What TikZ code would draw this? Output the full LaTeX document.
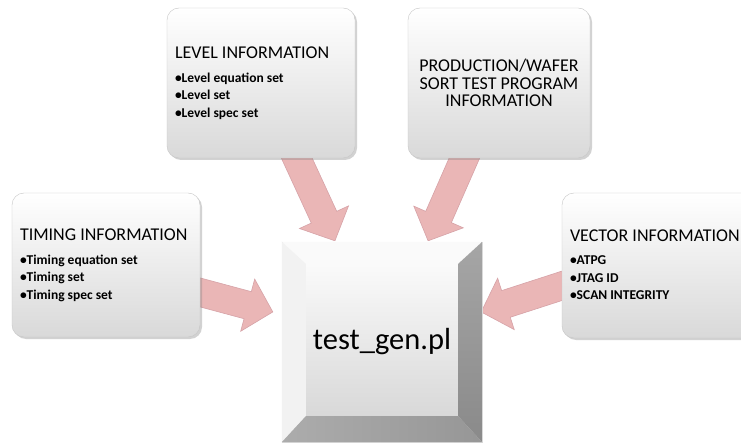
\documentclass[tikz,border=0pt]{standalone}
\usepackage{fontspec}
\setmainfont{Carlito}
\usetikzlibrary{calc,shadows}
\definecolor{arrowpink}{RGB}{234,182,182}
\definecolor{arrowedge}{RGB}{214,162,167}
\tikzset{
  infobox/.style={draw=gray!45,rounded corners=12pt,top color=white,bottom color=gray!30,
    drop shadow={opacity=0.35,shadow xshift=2pt,shadow yshift=-2pt},
    inner sep=8pt,font=\fontsize{18}{17.5}\selectfont},
  listbox/.style={infobox,align=flush left,text height=10pt,text depth=58pt},
  corebox/.style={draw=gray!30,top color=white,bottom color=gray!35,minimum size=200pt,
    inner sep=0pt,font=\fontsize{30.5}{32}\selectfont},
  infoarrow/.style={fill=arrowpink,draw=arrowedge,line width=0.6pt}
}
\pgfdeclarelayer{background}
\pgfsetlayers{background,main}
\newcommand{\itemfont}{\fontsize{13.5}{17.3}\bfseries\selectfont}
\newcommand{\fatarrow}[2]{%
  \coordinate (hb) at ($(#2)!26pt!(#1)$);
  \filldraw[infoarrow] ($(#1)!14pt!90:(#2)$) -- ($(hb)!14pt!-90:(#1)$) -- ($(hb)!27pt!-90:(#1)$)
    -- (#2) -- ($(hb)!27pt!90:(#1)$) -- ($(hb)!14pt!90:(#1)$) -- ($(#1)!14pt!-90:(#2)$) -- cycle;
}

\begin{document}
\begin{tikzpicture}[x=1pt,y=-1pt]
  \clip (0,0) rectangle (741,443);
  \node[listbox,minimum width=188pt,minimum height=150pt,text width=172pt] (level) at (261,83)
    {LEVEL INFORMATION\\[6pt]\itemfont •Level equation set\\•Level set\\•Level spec set};
  \node[infobox,minimum width=182pt,minimum height=150pt,text width=166pt,align=flush center] (prod) at (499,83)
    {PRODUCTION/WAFER\\SORT TEST PROGRAM\\INFORMATION};
  \node[listbox,minimum width=188pt,minimum height=144pt,text width=172pt] (timing) at (106,265)
    {TIMING INFORMATION\\[6pt]\itemfont •Timing equation set\\•Timing set\\•Timing spec set};
  \node[listbox,minimum width=192pt,minimum height=145pt,text width=176pt,inner sep=6pt] (vector) at (658,265.5)
    {VECTOR INFORMATION\\[6pt]\itemfont •ATPG\\•JTAG ID\\•SCAN INTEGRITY};
  \node[corebox] (testgen) at (382,342) {test\_gen.pl};
  % bevel of the centre block
  \fill[gray!4] (testgen.north west) -- (testgen.north east) -- ($(testgen.north east)+(-24,22)$)
    -- ($(testgen.north west)+(24,22)$) -- cycle;
  \fill[gray!10] (testgen.north west) -- ($(testgen.north west)+(24,22)$) -- ($(testgen.south west)+(24,-26)$)
    -- (testgen.south west) -- cycle;
  \shade[top color=gray!70,bottom color=gray!92] (testgen.north east) -- (testgen.south east)
    -- ($(testgen.south east)+(-24,-26)$) -- ($(testgen.north east)+(-24,22)$) -- cycle;
  \shade[left color=gray!65,right color=gray!82] (testgen.south west) -- ($(testgen.south west)+(24,-26)$)
    -- ($(testgen.south east)+(-24,-26)$) -- (testgen.south east) -- cycle;
  \begin{pgfonlayer}{background}
    \fill[white] (0,0) rectangle (741,443);
    \coordinate (lvlto) at ($(testgen.north west)!0.265!(testgen.north east)+(0,-1)$);
    \coordinate (lvlfrom) at ($(lvlto)!1.2!($(level.south west)!0.69!(level.south east)$)$);
    \coordinate (prodto) at ($(testgen.north west)!0.73!(testgen.north east)+(0,-1)$);
    \coordinate (prodfrom) at ($(prodto)!1.2!($(prod.south west)!0.31!(prod.south east)$)$);
    \coordinate (timto) at ($(testgen.north west)!0.35!(testgen.south west)+(-9,0)$);
    \coordinate (timfrom) at ($(timto)!1.2!($(timing.north east)!0.69!(timing.south east)$)$);
    \coordinate (vecto) at ($(testgen.north east)!0.35!(testgen.south east)+(-1,0)$);
    \coordinate (vecfrom) at ($(vecto)!1.2!($(vector.north west)!0.64!(vector.south west)$)$);
    \fatarrow{lvlfrom}{lvlto}
    \fatarrow{prodfrom}{prodto}
    \fatarrow{timfrom}{timto}
    \fatarrow{vecfrom}{vecto}
  \end{pgfonlayer}
\end{tikzpicture}
\end{document}
